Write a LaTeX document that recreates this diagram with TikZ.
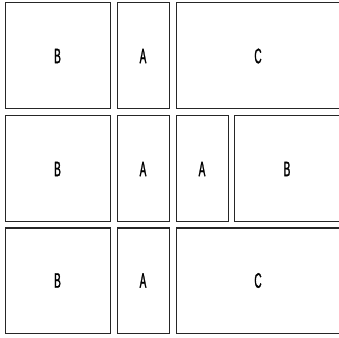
\documentclass[tikz,border=0pt]{standalone}
\usepackage{fontspec}
\newfontfamily\cond[FakeStretch=0.48,FakeBold=1.2]{Liberation Sans}
\begin{document}
\begin{tikzpicture}[x=1pt,y=1pt,
  panel/.style={draw=black!85, line width=1pt, fill=white, inner sep=0pt, outer sep=0pt,
    font=\cond\fontsize{21}{21}\selectfont}]
\useasboundingbox (0,0) rectangle (339,337);
\fill[white] (0,0) rectangle (339,337);
% row 1
\node[panel, minimum width=105pt, minimum height=106pt] (b1) at (57.5,281) {B};
\node[panel, minimum width=52pt, minimum height=106pt] (a1) at (143,281) {A};
\node[panel, minimum width=164pt, minimum height=106pt] (c1) at (258,281) {C};
% row 2
\node[panel, minimum width=105pt, minimum height=106pt] (b2) at (57.5,168) {B};
\node[panel, minimum width=52pt, minimum height=106pt] (a2) at (143,168) {A};
\node[panel, minimum width=52pt, minimum height=106pt] (a3) at (202,168) {A};
\node[panel, minimum width=106pt, minimum height=106pt] (b3) at (287,168) {B};
% row 3
\node[panel, minimum width=105pt, minimum height=105pt] (b4) at (57.5,56.5) {B};
\node[panel, minimum width=52pt, minimum height=105pt] (a4) at (143,56.5) {A};
\node[panel, minimum width=164pt, minimum height=105pt] (c2) at (258,56.5) {C};
\end{tikzpicture}
\end{document}
